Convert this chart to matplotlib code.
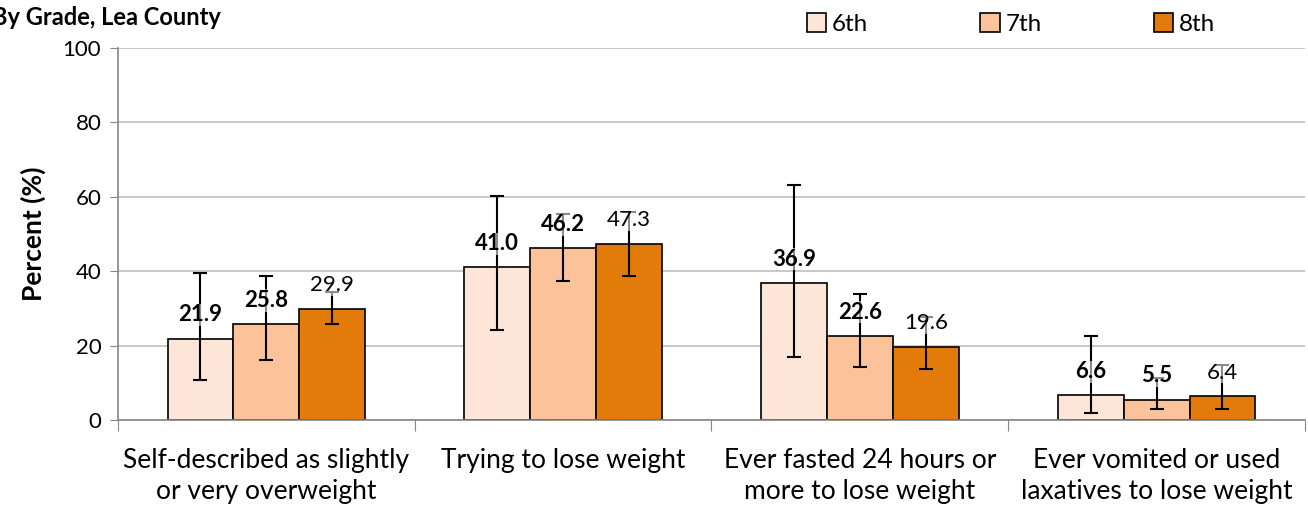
import numpy as np
import matplotlib.pyplot as plt
from matplotlib.patches import Patch

plt.rcParams['font.family'] = ['Lato', 'DejaVu Sans']

categories = ['Self-described as slightly\nor very overweight',
              'Trying to lose weight',
              'Ever fasted 24 hours or\nmore to lose weight',
              'Ever vomited or used\nlaxatives to lose weight']
grades = ['6th', '7th', '8th']
colors = ['#FDE5D8', '#FCC29A', '#E37B0A']

values_6th = [21.9, 41.0, 36.9, 6.6]
values_7th = [25.8, 46.2, 22.6, 5.5]
values_8th = [29.9, 47.3, 19.6, 6.4]

low_6th = [10.7, 24.2, 16.9, 2.0]
high_6th = [39.6, 60.2, 63.2, 22.6]
low_7th = [16.1, 37.4, 14.3, 2.9]
high_7th = [38.7, 55.4, 34.0, 11.3]
low_8th = [25.8, 38.7, 13.6, 2.9]
high_8th = [34.3, 55.8, 27.8, 14.9]

series = [(values_6th, low_6th, high_6th),
          (values_7th, low_7th, high_7th),
          (values_8th, low_8th, high_8th)]
bold_labels = [True, True, False]

fig = plt.figure(figsize=(13.08, 5.08), dpi=100)
ax = fig.add_axes([0.0902, 0.1732, 0.9075, 0.7323])

x = np.arange(len(categories))
width = 0.222

for i, (vals, lo, hi) in enumerate(series):
    pos = x + (i - 1) * width
    vals = np.array(vals)
    err = [vals - np.array(lo), np.array(hi) - vals]
    ax.bar(pos, vals, width, color=colors[i], edgecolor='black',
           linewidth=1.2, zorder=2, label=grades[i])
    ax.errorbar(pos, vals, yerr=err, fmt='none', ecolor='black',
                elinewidth=1.5, capsize=5, capthick=1.5, zorder=3)
    for p, v in zip(pos, vals):
        ax.annotate(f'{v:.1f}', (p, v), xytext=(0, 17),
                    textcoords='offset points', ha='center', va='center',
                    fontsize=16,
                    fontweight='bold' if bold_labels[i] else 'normal',
                    bbox=dict(facecolor='white', alpha=0.55,
                              edgecolor='none', pad=0.5),
                    zorder=4)

ax.set_xlim(-0.5, 3.5)
ax.set_ylim(0, 100)
ax.set_yticks(np.arange(0, 101, 20))
ax.tick_params(axis='y', labelsize=16, length=6, color='#868686',
               direction='out', pad=6)
ax.yaxis.grid(True, color='#BFBFBF', linewidth=1.2, zorder=0)
ax.set_axisbelow(True)

ax.set_xticks(np.arange(-0.5, 3.6, 1.0))
ax.set_xticklabels([])
ax.tick_params(axis='x', which='major', length=8, color='#868686')
ax.set_xticks(x, minor=True)
ax.set_xticklabels(categories, minor=True, fontsize=19, linespacing=1.3)
ax.tick_params(axis='x', which='minor', length=0, pad=20)

for side in ['top', 'right']:
    ax.spines[side].set_visible(False)
for side in ['left', 'bottom']:
    ax.spines[side].set_color('#868686')
    ax.spines[side].set_linewidth(1.2)

ax.set_ylabel('Percent (%)', fontsize=19, fontweight='bold', labelpad=12)

fig.text(-0.006, 0.965, 'By Grade, Lea County', fontsize=17,
         fontweight='bold', ha='left', va='center')

handles = [Patch(facecolor=c, edgecolor='black', linewidth=1.2) for c in colors]
fig.legend(handles, grades, loc='center left', bbox_to_anchor=(0.6, 0.953),
           ncol=3, frameon=False, fontsize=17.5, handlelength=0.8,
           handleheight=0.8, handletextpad=0.25, columnspacing=4.6)

fig.savefig('out.png', dpi=100)
